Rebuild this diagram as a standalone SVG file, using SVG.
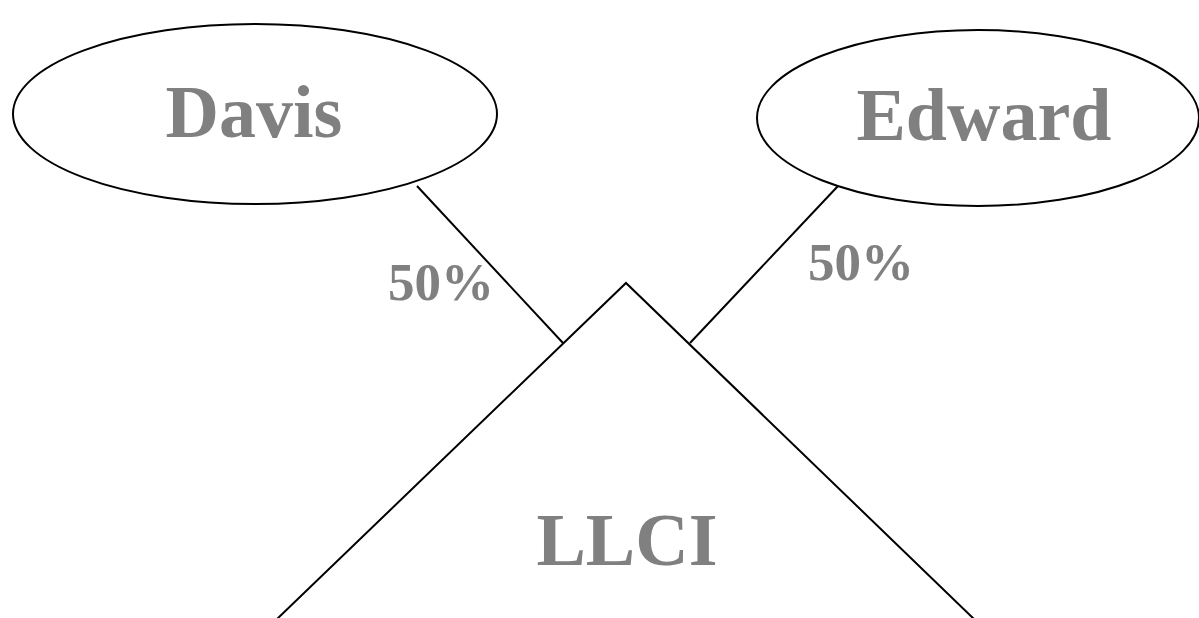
<svg xmlns="http://www.w3.org/2000/svg" width="1199" height="618" viewBox="0 0 1199 618">
<style>
.shape{fill:#fff;stroke:#000;stroke-width:2}
.conn{stroke:#000;stroke-width:2;fill:none}
.lbl{font-family:"Liberation Serif","Times New Roman",serif;font-weight:bold;fill:#808080;text-anchor:middle}
</style>
<rect width="1199" height="618" fill="#fff"/>
<g id="llci">
<path class="shape" d="M276,620 L626,283 L975,620"/>
<text class="lbl" x="627" y="565" font-size="74">LLCI</text>
</g>
<g id="davis">
<ellipse class="shape" cx="255" cy="114" rx="242" ry="90"/>
<text class="lbl" x="254" y="137" font-size="74">Davis</text>
</g>
<g id="edward">
<ellipse class="shape" cx="978" cy="118" rx="221" ry="88"/>
<text class="lbl" x="984" y="140" font-size="74">Edward</text>
</g>
<g id="connectors">
<line class="conn" x1="417" y1="186" x2="563" y2="343"/>
<line class="conn" x1="838" y1="186" x2="690" y2="343"/>
</g>
<g id="labels">
<text class="lbl" x="441" y="300" font-size="53">50%</text>
<text class="lbl" x="861" y="280" font-size="53">50%</text>
</g>
</svg>
